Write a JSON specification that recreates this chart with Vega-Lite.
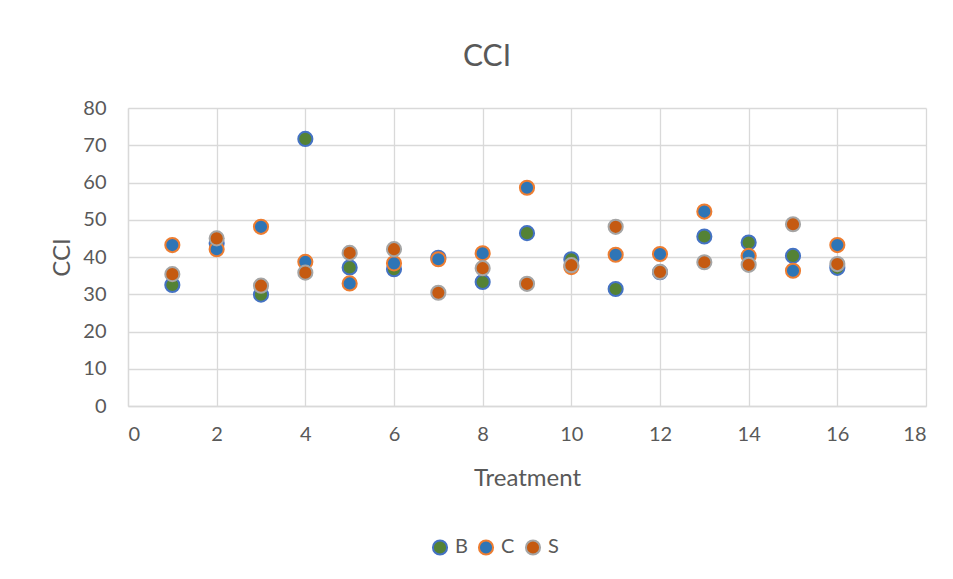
{
  "$schema": "https://vega.github.io/schema/vega-lite/v6.json",
  "width": 798,
  "height": 298,
  "autosize": "none",
  "padding": {"left": 128, "top": 108, "right": 27, "bottom": 173},
  "background": "white",
  "title": {"text": "CCI", "fontSize": 30, "font": "Lato", "fontWeight": "normal", "color": "#595959", "offset": 26, "dx": -40},
  "data": {"values": [
    {"Treatment": 1, "CCI": 32.5, "series": "B"},
    {"Treatment": 2, "CCI": 43.7, "series": "B"},
    {"Treatment": 3, "CCI": 29.9, "series": "B"},
    {"Treatment": 4, "CCI": 71.7, "series": "B"},
    {"Treatment": 5, "CCI": 37.2, "series": "B"},
    {"Treatment": 6, "CCI": 36.7, "series": "B"},
    {"Treatment": 7, "CCI": 39.8, "series": "B"},
    {"Treatment": 8, "CCI": 33.3, "series": "B"},
    {"Treatment": 9, "CCI": 46.4, "series": "B"},
    {"Treatment": 10, "CCI": 39.4, "series": "B"},
    {"Treatment": 11, "CCI": 31.4, "series": "B"},
    {"Treatment": 12, "CCI": 35.9, "series": "B"},
    {"Treatment": 13, "CCI": 45.5, "series": "B"},
    {"Treatment": 14, "CCI": 43.9, "series": "B"},
    {"Treatment": 15, "CCI": 40.3, "series": "B"},
    {"Treatment": 16, "CCI": 37.1, "series": "B"},
    {"Treatment": 1, "CCI": 43.2, "series": "C"},
    {"Treatment": 2, "CCI": 42.1, "series": "C"},
    {"Treatment": 3, "CCI": 48.1, "series": "C"},
    {"Treatment": 4, "CCI": 38.7, "series": "C"},
    {"Treatment": 5, "CCI": 32.9, "series": "C"},
    {"Treatment": 6, "CCI": 38.3, "series": "C"},
    {"Treatment": 7, "CCI": 39.4, "series": "C"},
    {"Treatment": 8, "CCI": 41.0, "series": "C"},
    {"Treatment": 9, "CCI": 58.6, "series": "C"},
    {"Treatment": 10, "CCI": 37.3, "series": "C"},
    {"Treatment": 11, "CCI": 40.6, "series": "C"},
    {"Treatment": 12, "CCI": 40.8, "series": "C"},
    {"Treatment": 13, "CCI": 52.2, "series": "C"},
    {"Treatment": 14, "CCI": 40.3, "series": "C"},
    {"Treatment": 15, "CCI": 36.3, "series": "C"},
    {"Treatment": 16, "CCI": 43.2, "series": "C"},
    {"Treatment": 1, "CCI": 35.4, "series": "S"},
    {"Treatment": 2, "CCI": 45.0, "series": "S"},
    {"Treatment": 3, "CCI": 32.3, "series": "S"},
    {"Treatment": 4, "CCI": 35.8, "series": "S"},
    {"Treatment": 5, "CCI": 41.1, "series": "S"},
    {"Treatment": 6, "CCI": 42.1, "series": "S"},
    {"Treatment": 7, "CCI": 30.4, "series": "S"},
    {"Treatment": 8, "CCI": 37.0, "series": "S"},
    {"Treatment": 9, "CCI": 32.8, "series": "S"},
    {"Treatment": 10, "CCI": 37.8, "series": "S"},
    {"Treatment": 11, "CCI": 48.1, "series": "S"},
    {"Treatment": 12, "CCI": 36.0, "series": "S"},
    {"Treatment": 13, "CCI": 38.6, "series": "S"},
    {"Treatment": 14, "CCI": 37.9, "series": "S"},
    {"Treatment": 15, "CCI": 48.8, "series": "S"},
    {"Treatment": 16, "CCI": 38.1, "series": "S"}
  ]},
  "mark": {"type": "point", "filled": true, "shape": "circle", "size": 200, "strokeWidth": 2, "opacity": 1},
  "encoding": {
    "x": {"field": "Treatment", "type": "quantitative",
      "scale": {"domain": [0, 18], "nice": false, "zero": false},
      "axis": {"values": [0, 2, 4, 6, 8, 10, 12, 14, 16, 18], "title": "Treatment", "titlePadding": 22, "labelPadding": 18}},
    "y": {"field": "CCI", "type": "quantitative",
      "scale": {"domain": [0, 80], "nice": false},
      "axis": {"values": [0, 10, 20, 30, 40, 50, 60, 70, 80], "title": "CCI", "titlePadding": 8, "labelPadding": 22}},
    "fill": {"field": "series", "type": "nominal",
      "scale": {"domain": ["B", "C", "S"], "range": ["#548235", "#2E75B6", "#C55A11"]},
      "legend": {"title": null, "orient": "none", "legendX": 302, "legendY": 429, "direction": "horizontal"}},
    "stroke": {"field": "series", "type": "nominal",
      "scale": {"domain": ["B", "C", "S"], "range": ["#4472C4", "#ED7D31", "#A5A5A5"]},
      "legend": {"title": null, "orient": "none", "legendX": 302, "legendY": 429, "direction": "horizontal"}}
  },
  "config": {
    "font": "Lato",
    "view": {"stroke": null},
    "axis": {
      "grid": true, "gridColor": "#D9D9D9", "gridWidth": 1.3,
      "domainColor": "#D9D9D9", "domainWidth": 1.3, "ticks": false,
      "labelFont": "Lato", "labelFontSize": 20, "labelColor": "#595959",
      "titleFont": "Lato", "titleFontSize": 24, "titleFontWeight": "normal", "titleColor": "#595959"
    },
    "legend": {"labelFont": "Lato", "labelFontSize": 20, "labelColor": "#595959", "symbolSize": 200, "symbolStrokeWidth": 2, "columnPadding": 6, "labelOffset": 5, "symbolType": "circle"}
  }
}
